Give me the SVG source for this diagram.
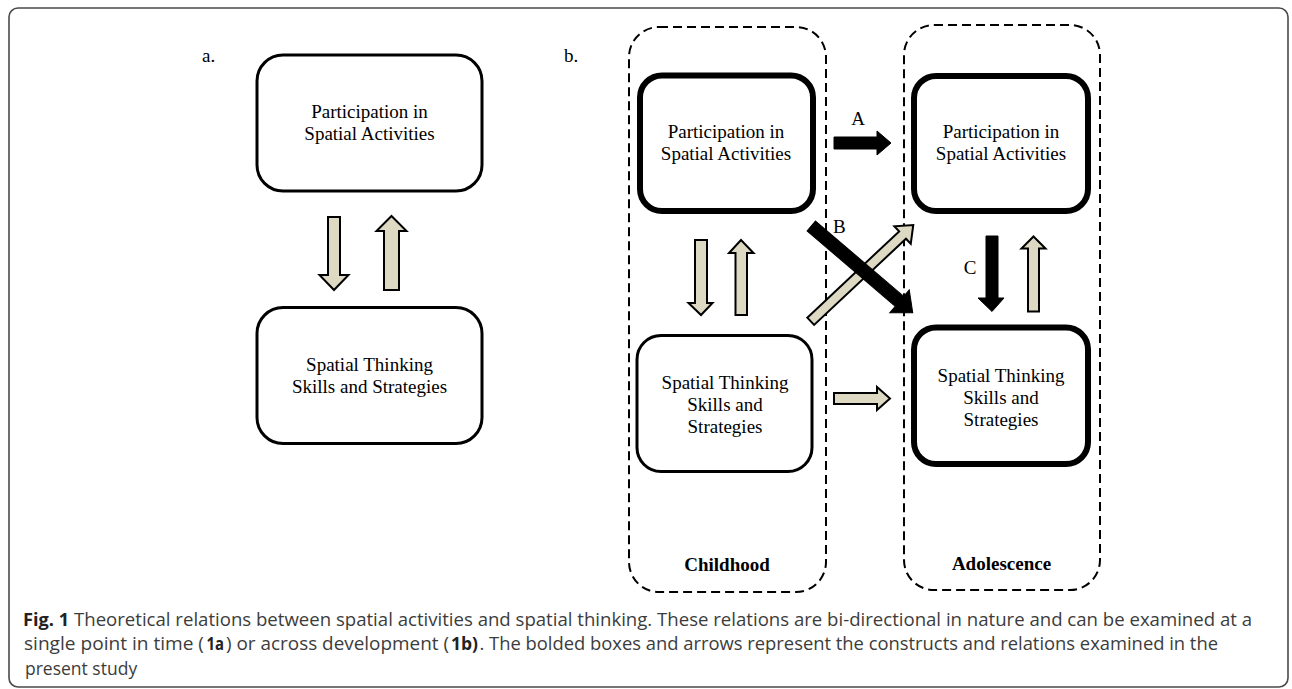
<svg xmlns="http://www.w3.org/2000/svg" width="1292" height="689" viewBox="0 0 1292 689">
<style>
  .frame { fill: #ffffff; stroke: #4a4a4a; stroke-width: 1.6; }
  .box { fill: #ffffff; stroke: #000000; stroke-width: 3; }
  .bold { fill: #ffffff; stroke: #000000; stroke-width: 6; }
  .period { fill: none; stroke: #000000; stroke-width: 2; stroke-dasharray: 9 5; }
  .t { font-family: "Liberation Serif", "Times New Roman", serif; font-size: 19px; fill: #000000; text-anchor: middle; }
  .lbl { font-family: "Liberation Serif", "Times New Roman", serif; font-size: 19px; fill: #000000; }
  .pb { font-weight: bold; }
  .beige { fill: #ddd9c3; stroke: #000000; stroke-width: 2; stroke-linejoin: miter; }
  .black { fill: #000000; stroke: #000000; stroke-width: 1; }
  .cap { font-family: "Open Sans", "Noto Sans", sans-serif; font-size: 17.5px; fill: #3c3c3c; }
  .capb { font-family: "Open Sans", "Noto Sans", sans-serif; font-size: 17.5px; font-weight: bold; fill: #222222; }
</style>
<rect class="frame" x="9" y="8" width="1279" height="679" rx="9"/>

<text class="lbl" x="202" y="62">a.</text>
<text class="lbl" x="564" y="62">b.</text>

<g id="a-activities">
  <rect class="box" x="257" y="55" width="225" height="136" rx="26"/>
  <text class="t" x="369.5" y="118">Participation in</text>
  <text class="t" x="369.5" y="140">Spatial Activities</text>
</g>
<g id="a-thinking">
  <rect class="box" x="257" y="307.5" width="225" height="136" rx="26"/>
  <text class="t" x="369.5" y="371">Spatial Thinking</text>
  <text class="t" x="369.5" y="393">Skills and Strategies</text>
</g>

<g id="childhood">
  <rect class="period" x="629" y="27" width="197" height="565" rx="30"/>
  <text class="t pb" x="727" y="571">Childhood</text>
</g>
<g id="adolescence">
  <rect class="period" x="904" y="25" width="196" height="565" rx="30"/>
  <text class="t pb" x="1001.5" y="570">Adolescence</text>
</g>

<g id="c-activities">
  <rect class="bold" x="640" y="75.5" width="173" height="135.5" rx="22"/>
  <text class="t" x="726" y="138">Participation in</text>
  <text class="t" x="726" y="160">Spatial Activities</text>
</g>
<g id="c-thinking">
  <rect class="box" x="637" y="335.5" width="175" height="136" rx="24"/>
  <text class="t" x="725" y="389">Spatial Thinking</text>
  <text class="t" x="725" y="411">Skills and</text>
  <text class="t" x="725" y="433">Strategies</text>
</g>
<g id="ad-activities">
  <rect class="bold" x="914" y="76" width="174" height="135" rx="22"/>
  <text class="t" x="1001" y="138">Participation in</text>
  <text class="t" x="1001" y="160">Spatial Activities</text>
</g>
<g id="ad-thinking">
  <rect class="bold" x="914" y="327.5" width="174" height="136.5" rx="22"/>
  <text class="t" x="1001" y="382">Spatial Thinking</text>
  <text class="t" x="1001" y="404">Skills and</text>
  <text class="t" x="1001" y="426">Strategies</text>
</g>

<g id="connectors">
  <!-- panel a -->
  <polygon class="beige" points="328,217 340,217 340,275 348.5,275 334,290 319.5,275 328,275"/>
  <polygon class="beige" points="391.5,216 406.5,231 399,231 399,290 384,290 384,231 376.5,231"/>
  <!-- childhood vertical -->
  <polygon class="beige" points="695,240 707,240 707,303 712.5,303 701,315 688.5,303 695,303"/>
  <polygon class="beige" points="741,240 753.5,253 747,253 747,315 735.5,315 735.5,253 729,253"/>
  <!-- adolescence vertical -->
  <polygon class="black" points="986,236 998,236 998,298 1004,298 992,311.5 978,298 986,298"/>
  <polygon class="beige" points="1033.5,236.5 1045.5,248.5 1039,248.5 1039,311.5 1028,311.5 1028,248.5 1021.5,248.5"/>
  <!-- horizontal -->
  <polygon class="black" points="834,137 877,137 877,131 891,143 877,155 877,149 834,149"/>
  <polygon class="beige" points="834,393 877,393 877,387 890,398.5 877,410 877,404 834,404"/>
  <!-- diagonals -->
  <polygon class="beige" transform="translate(810.7,321.3) rotate(-43.2)" points="0,-5 126,-5 126,-12 140.7,0 126,12 126,5 0,5"/>
  <polygon class="black" transform="translate(811.3,226) rotate(40.5)" points="0,-6.5 116,-6.5 116,-15 133.4,0 116,15 116,6.5 0,6.5"/>
  <text class="t" x="858" y="125">A</text>
  <text class="lbl" x="833" y="233">B</text>
  <text class="t" x="970" y="274">C</text>
</g>

<g id="caption">
  <text class="capb" x="23" y="626" textLength="46" lengthAdjust="spacingAndGlyphs">Fig. 1</text>
  <text class="cap" x="74" y="626" textLength="1178" lengthAdjust="spacingAndGlyphs">Theoretical relations between spatial activities and spatial thinking. These relations are bi-directional in nature and can be examined at a</text>
  <text class="cap" x="24" y="650" textLength="180" lengthAdjust="spacingAndGlyphs">single point in time (</text>
  <text class="capb" x="206.5" y="650" textLength="17.5" lengthAdjust="spacingAndGlyphs">1a</text>
  <text class="cap" x="226" y="650" textLength="223" lengthAdjust="spacingAndGlyphs">) or across development (</text>
  <text class="capb" x="451" y="650" textLength="27" lengthAdjust="spacingAndGlyphs">1b)</text>
  <text class="cap" x="479.5" y="650" textLength="738.5" lengthAdjust="spacingAndGlyphs">. The bolded boxes and arrows represent the constructs and relations examined in the</text>
  <text class="cap" x="25" y="675">present study</text>
</g>
</svg>
